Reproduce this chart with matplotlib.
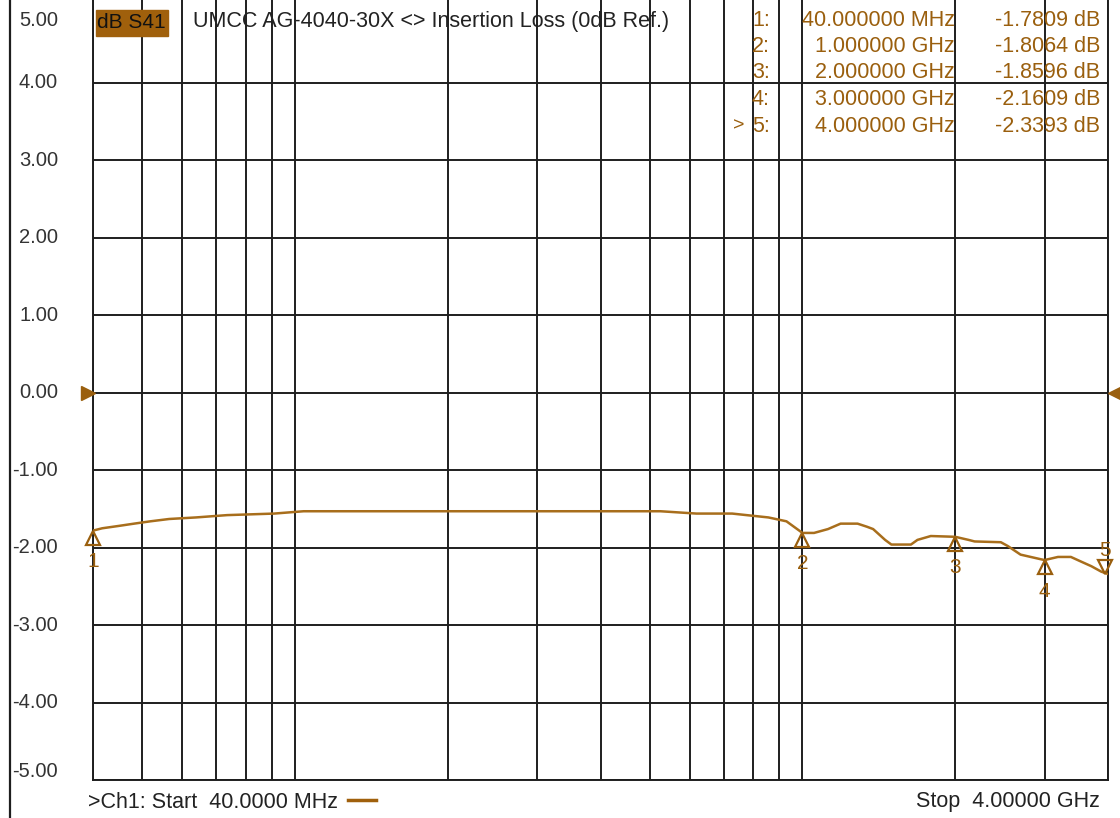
import numpy as np
import matplotlib
matplotlib.use('Agg')
import matplotlib.pyplot as plt
from matplotlib.lines import Line2D
from matplotlib.patches import Rectangle
from matplotlib.transforms import offset_copy, blended_transform_factory

# trace (MHz, dB)
freq = [40, 41.7, 44.9, 48.2, 51.9, 56.5, 63.8, 73.5, 91, 104, 234, 525, 618,
        727, 776, 857, 930, 1000, 1054, 1123, 1189, 1284, 1340, 1378, 1455,
        1497, 1636, 1685, 1790, 2000, 2125, 2184, 2460, 2540, 2690, 2950,
        3000, 3188, 3380, 3540, 3710, 3880, 4000]
loss = [-1.78, -1.75, -1.72, -1.69, -1.66, -1.63, -1.61, -1.58, -1.56, -1.53,
        -1.53, -1.53, -1.56, -1.56, -1.58, -1.61, -1.66, -1.81, -1.81, -1.76,
        -1.69, -1.69, -1.73, -1.76, -1.90, -1.96, -1.96, -1.90, -1.85, -1.86,
        -1.90, -1.92, -1.93, -1.98, -2.09, -2.15, -2.16, -2.12, -2.12, -2.18,
        -2.24, -2.31, -2.34]

# markers
mk_freq = [40, 1000, 2000, 3000, 4000]
mk_val = [-1.7809, -1.8064, -1.8596, -2.1609, -2.3393]
mk_freq_txt = ['40.000000 MHz', '1.000000 GHz', '2.000000 GHz',
               '3.000000 GHz', '4.000000 GHz']
mk_val_txt = ['-1.7809 dB', '-1.8064 dB', '-1.8596 dB', '-2.1609 dB',
              '-2.3393 dB']

grid_freq = [40, 50, 60, 70, 80, 90, 100, 200, 300, 400, 500, 600, 700, 800,
             900, 1000, 2000, 3000, 4000]
y_grid = [-5, -4, -3, -2, -1, 0, 1, 2, 3, 4]
y_labels = [-5, -4, -3, -2, -1, 0, 1, 2, 3, 4, 5]

W, H = 1120, 818
trace_c = '#A86E1C'
text_c = '#9A5F0E'
grid_c = '#1e1e1e'
plt.rcParams['font.family'] = ['Liberation Sans', 'DejaVu Sans']

fig = plt.figure(figsize=(W / 100, H / 100), dpi=100)
ax = fig.add_axes([93 / W, 1 - 780 / H, (1108 - 93) / W, 780 / H])
ax.set_xscale('log')
ax.set_xlim(40, 4000)
ax.set_ylim(-5, 5 + 5.5 / 77.5)
ax.set_xticks(grid_freq)
ax.set_xticklabels([])
ax.xaxis.set_minor_locator(matplotlib.ticker.NullLocator())
ax.set_yticks(y_grid)
ax.set_yticklabels([])
ax.tick_params(length=0)
ax.grid(True, color=grid_c, linewidth=1.4)
for s in ['left', 'right', 'bottom']:
    ax.spines[s].set_color(grid_c)
    ax.spines[s].set_linewidth(1.4)
ax.spines['top'].set_visible(False)

ax.plot(freq, loss, color=trace_c, linewidth=1.8, zorder=3)

# marker triangles + numbers
for i, (f, v) in enumerate(zip(mk_freq, mk_val)):
    if i < 4:
        tr = offset_copy(ax.transData, fig=fig, y=-7, units='dots')
        ax.plot(f, v, marker='^', ms=10, mfc='none', mec=text_c, mew=1.6,
                transform=tr, clip_on=False, zorder=4)
        ax.text(f, v, str(i + 1), color=text_c, fontsize=15, ha='center',
                va='center', clip_on=False,
                transform=offset_copy(ax.transData, fig=fig, y=-31, units='dots'))
    else:
        tr = offset_copy(ax.transData, fig=fig, x=-3, y=7, units='dots')
        ax.plot(f, v, marker='v', ms=10, mfc='none', mec=text_c, mew=1.6,
                transform=tr, clip_on=False, zorder=4)
        ax.text(f, v, str(i + 1), color=text_c, fontsize=15, ha='center',
                va='center', clip_on=False,
                transform=offset_copy(ax.transData, fig=fig, x=-3, y=23, units='dots'))

# reference level arrows
ax.plot(40, 0, marker='>', ms=10, color=text_c, clip_on=False, zorder=5,
        transform=offset_copy(ax.transData, fig=fig, x=-5, units='dots'))
ax.plot(4000, 0, marker='<', ms=10, color=text_c, clip_on=False, zorder=5,
        transform=offset_copy(ax.transData, fig=fig, x=7, units='dots'))

# y labels on the left
ytr = blended_transform_factory(fig.transFigure, ax.transData)
for yv in y_labels:
    yy = yv
    if yv == 5:
        yy = 4.81
    elif yv == -5:
        yy = -4.89
    ax.text(58 / W, yy, '%.2f' % yv, transform=ytr, ha='right', va='center',
            fontsize=14.5, color='#333333', clip_on=False)

fig.add_artist(Line2D([10 / W, 10 / W], [0, 1], color=grid_c, linewidth=1.6))


def fx(x):
    return x / W


def fy(y):
    return 1 - y / H


# header
fig.add_artist(Rectangle((fx(96), fy(36)), 72 / W, 26 / H, color='#A0600C',
                         zorder=5))
fig.text(fx(97), fy(23), 'dB S41', fontsize=15, color='#111111', va='center',
         zorder=6)
fig.text(fx(193), fy(22), 'UMCC AG-4040-30X <> Insertion Loss (0dB Ref.)',
         fontsize=15.5, color='#222222', va='center', zorder=6)

for i in range(5):
    y = fy(20 + 26.5 * i)
    fig.text(fx(752), y, '%d:' % (i + 1), fontsize=15.5, color=text_c,
             va='center')
    fig.text(fx(955), y, mk_freq_txt[i], fontsize=15.5, color=text_c,
             va='center', ha='right')
    fig.text(fx(1100), y, mk_val_txt[i], fontsize=15.5, color=text_c,
             va='center', ha='right')
fig.text(fx(733), fy(20 + 26.5 * 4), '>', fontsize=14, color=text_c,
         va='center')

# footer
fig.text(fx(88), fy(802), '>Ch1: Start  40.0000 MHz', fontsize=15.5,
         color='#222222', va='center')
fig.add_artist(Line2D([fx(348), fx(376)], [fy(800), fy(800)], color='#A0600C',
                      linewidth=2.5))
fig.text(fx(1100), fy(802), 'Stop  4.00000 GHz', fontsize=15.5,
         color='#222222', va='center', ha='right')

fig.savefig('out.png', dpi=100)
